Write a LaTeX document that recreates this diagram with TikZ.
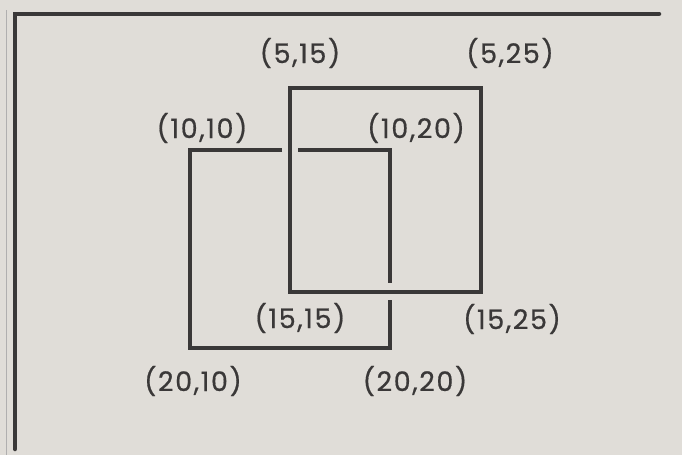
\documentclass[tikz,border=0pt]{standalone}
\usepackage{fontspec}
\setmainfont{Poppins}[LetterSpace=6,FakeBold=0.6]
\definecolor{paper}{RGB}{224,221,216}
\definecolor{ink}{RGB}{58,56,56}
\begin{document}
\begin{tikzpicture}[x=1pt,y=-1pt,
  edge/.style={draw=ink,line width=4.2pt,line cap=butt,line join=miter},
  frame/.style={draw=ink,line width=4.5pt,line cap=round},
  lbl/.style={text=ink,font=\fontsize{27}{27}\selectfont,inner sep=0pt}]
\fill[paper] (0,0) rectangle (682,455);
\useasboundingbox (0,0) rectangle (682,455);
% frame
\coordinate (ftr) at (659,14);
\coordinate (ftl) at (15,14);
\coordinate (fbl) at (15,449);
\draw[frame] (ftr) -- (ftl) -- (fbl);
\draw[ink!40,line width=1pt] (6,10) -- (6,455);
% rectangle B (5,15)-(15,25)
\coordinate (b1) at (290,88);
\coordinate (b2) at (481,292);
\draw[edge] (b1) rectangle (b2);
% rectangle A (10,10)-(20,20), broken where B crosses
\coordinate (a1) at (190,150);
\coordinate (a2) at (282,150);
\coordinate (a3) at (298,150);
\coordinate (a4) at (390,150);
\coordinate (a5) at (390,283);
\coordinate (a6) at (390,300);
\coordinate (a7) at (390,348);
\coordinate (a8) at (190,348);
\draw[edge] (a2) -- (a1) -- (a8) -- (a7) -- (a6);
\draw[edge] (a3) -- (a4) -- (a5);
% labels
\node[lbl] (l1) at (300,53) {(5,15)};
\node[lbl] (l2) at (510,53) {(5,25)};
\node[lbl] (l3) at (202,128) {(10,10)};
\node[lbl] (l4) at (416,128) {(10,20)};
\node[lbl] (l5) at (300,318) {(15,15)};
\node[lbl] (l6) at (512,319) {(15,25)};
\node[lbl] (l7) at (193,381) {(20,10)};
\node[lbl] (l8) at (415,381) {(20,20)};
\end{tikzpicture}
\end{document}
